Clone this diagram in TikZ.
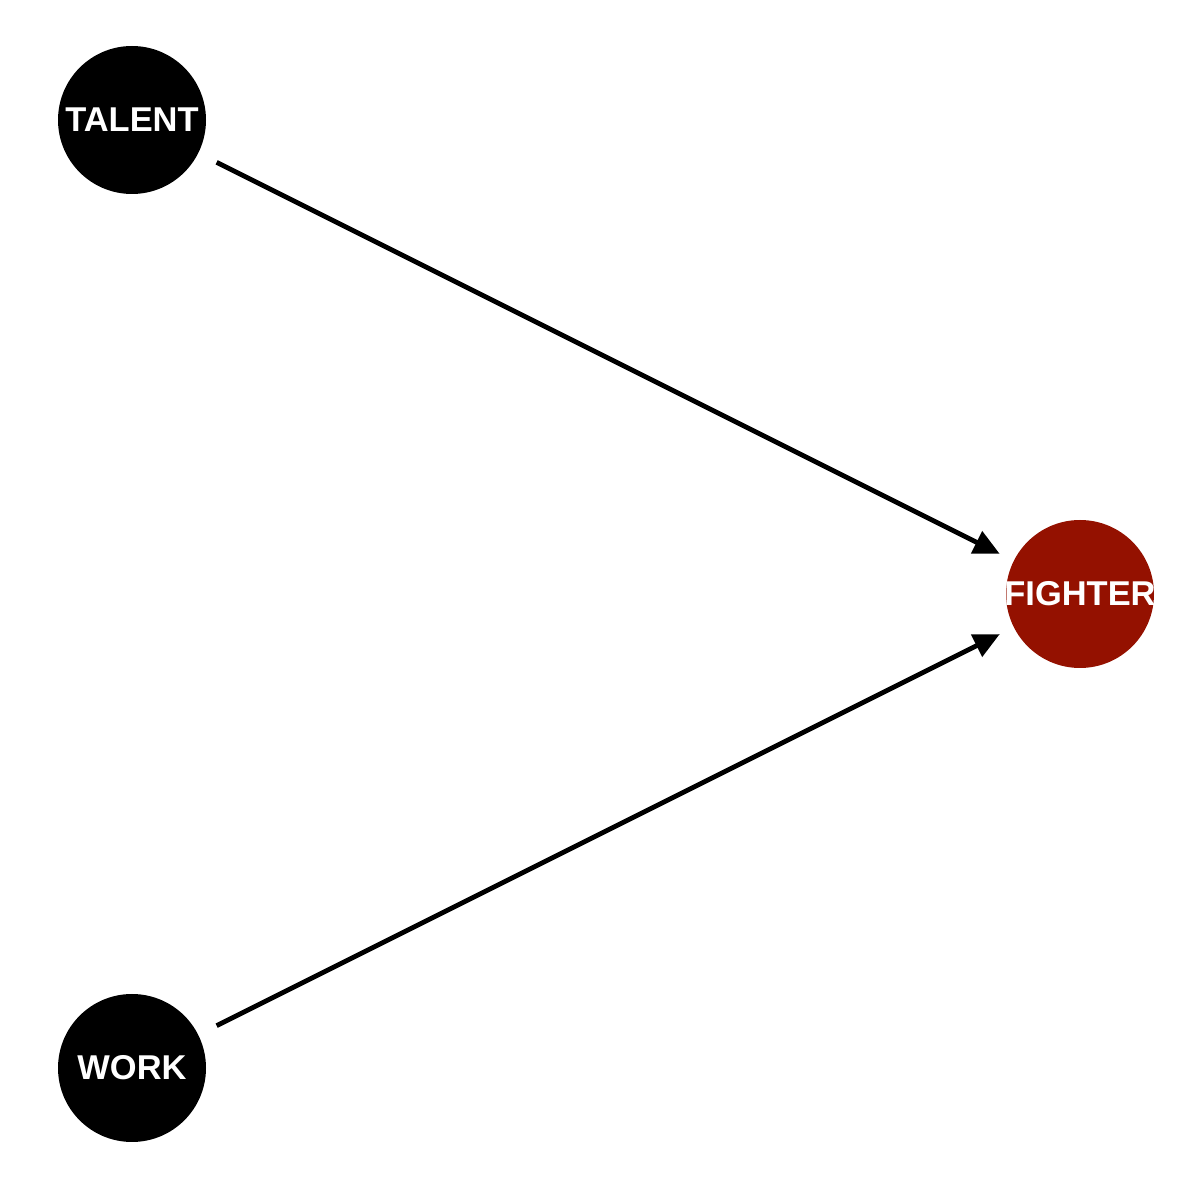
\documentclass[tikz,border=0pt]{standalone}
\usepackage{fontspec}
\setmainfont{Liberation Sans}
\usetikzlibrary{arrows.meta}
\definecolor{fightred}{HTML}{941100}
\newcommand\varname[1]{\makebox[0pt]{#1}}
\begin{document}
\begin{tikzpicture}[
	    var/.style={circle,fill=black,minimum size=1.48cm,inner sep=0pt,text=white,font=\fontsize{9.8}{11}\selectfont\bfseries},
	    link/.style={line width=1.35pt,-{Triangle[length=0.26cm,width=0.24cm]},shorten <=0.2cm,shorten >=0.15cm}]
	    \useasboundingbox(0,0)rectangle(12,12);
	    \node[var](talent)at(1.32,10.80){\varname{TALENT}};
	    \node[var](work)at(1.32,1.32){\varname{WORK}};
	    \node[var,fill=fightred](fighter)at(10.80,6.06){\varname{FIGHTER}};
	    \draw[link](talent)--(fighter);
	    \draw[link](work)--(fighter);
	\end{tikzpicture}
\end{document}
